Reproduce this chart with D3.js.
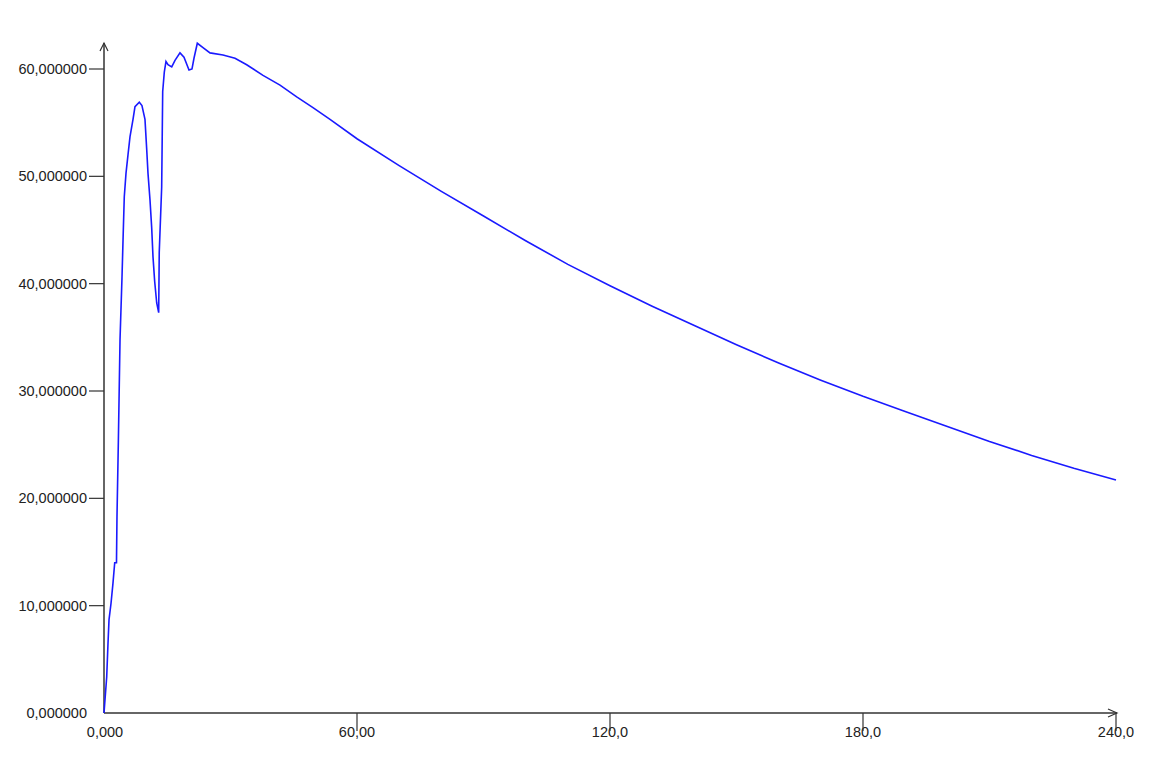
<!DOCTYPE html>
<html>
<head>
<meta charset="utf-8">
<script src="https://cdn.jsdelivr.net/npm/d3@7"></script>
<style>
  body { margin: 0; background: #fff; }
</style>
</head>
<body>
<div id="chart"></div>
<script>
var width = 1153;
var height = 764;

// time values (x) and signal (y)
var times = [0, 0.64, 0.95, 1.19, 1.66, 2.13, 2.54, 2.96, 3.08, 3.4, 3.8, 4.27, 4.58, 4.81, 5.22, 5.69,
    6.17, 6.88, 7.35, 8.37, 9.0, 9.72, 10.13, 10.43, 10.91, 11.31, 11.62, 12.02, 12.5, 12.97,
    13.1, 13.68, 13.8, 13.92, 14.3, 14.7, 15.18, 16.06, 16.84, 18.02, 18.97, 20.16, 20.87, 21.34,
    22.13, 23.48, 25.14, 28.22, 31.07, 33.84, 37.71, 41.74, 45.7, 49.56, 53.6, 60, 70, 80, 90,
    100, 110, 120, 130, 140, 150, 160, 170, 180, 190, 200, 210, 220, 230, 240];
var values = [0, 3.35, 6.5, 8.7, 10.2, 12.1, 14.0, 14.0, 18.3, 25.2, 34.8, 40.6, 45.0, 48.1, 50.3, 52.0,
    53.7, 55.3, 56.5, 56.9, 56.6, 55.3, 52.5, 50.3, 47.8, 45.2, 42.5, 40.2, 38.2, 37.3,
    42.9, 49.0, 53.4, 57.9, 59.7, 60.7, 60.4, 60.2, 60.8, 61.5, 61.1, 59.9, 60.0, 61.0,
    62.4, 62.0, 61.5, 61.3, 61.0, 60.4, 59.4, 58.5, 57.4, 56.4, 55.3, 53.5, 51.0, 48.6, 46.3,
    44.0, 41.8, 39.8, 37.9, 36.1, 34.3, 32.6, 31.0, 29.5, 28.1, 26.7, 25.3, 24.0, 22.8, 21.7];

var xTicks = [0, 60, 120, 180, 240];
var xTickLabels = ["0,000", "60,00", "120,0", "180,0", "240,0"];
var yTicks = [0, 10, 20, 30, 40, 50, 60];
var yTickLabels = ["0,000000", "10,000000", "20,000000", "30,000000", "40,000000", "50,000000", "60,000000"];

var data = times.map(function(t, i) { return { t: t, v: values[i] }; });

var x0 = 104, x1 = 1116;
var y0 = 713, y60 = 69;

var x = d3.scaleLinear().domain([0, 240]).range([x0, x1]);
var y = d3.scaleLinear().domain([0, 60]).range([y0, y60]);

var svg = d3.select("#chart").append("svg")
    .attr("width", width)
    .attr("height", height);

var axisColor = "#333";
var font = "'Liberation Sans', Arial, sans-serif";

// y axis line with arrow
svg.append("line")
    .attr("x1", x0).attr("x2", x0)
    .attr("y1", y0).attr("y2", 43)
    .attr("stroke", axisColor).attr("stroke-width", 1.5);
svg.append("path")
    .attr("d", "M" + (x0 - 4) + ",51 L" + x0 + ",43 L" + (x0 + 4) + ",51")
    .attr("fill", "none").attr("stroke", axisColor).attr("stroke-width", 1.2);

// x axis line with arrow
svg.append("line")
    .attr("x1", x0).attr("x2", x1 + 1)
    .attr("y1", y0).attr("y2", y0)
    .attr("stroke", axisColor).attr("stroke-width", 1.5);
svg.append("path")
    .attr("d", "M" + (x1 - 8) + "," + (y0 - 4) + " L" + (x1 + 1) + "," + y0 + " L" + (x1 - 8) + "," + (y0 + 4))
    .attr("fill", "none").attr("stroke", axisColor).attr("stroke-width", 1.2);

// y ticks and labels
yTicks.forEach(function(d, i) {
    if (d > 0) {
        svg.append("line")
            .attr("x1", x0 - 15).attr("x2", x0)
            .attr("y1", y(d)).attr("y2", y(d))
            .attr("stroke", axisColor).attr("stroke-width", 1.2);
    }
    svg.append("text")
        .attr("x", 87)
        .attr("y", y(d) + 5)
        .attr("text-anchor", "end")
        .style("font-family", font)
        .style("font-size", "14.5px")
        .attr("fill", "#222")
        .text(yTickLabels[i]);
});

// x ticks and labels
xTicks.forEach(function(d, i) {
    svg.append("text")
        .attr("x", x(d) - (d === 0 ? -1 : 0))
        .attr("y", 737)
        .attr("text-anchor", "middle")
        .style("font-family", font)
        .style("font-size", "14.5px")
        .attr("fill", "#222")
        .text(xTickLabels[i]);
    if (d > 0) {
        svg.append("line")
            .attr("x1", x(d)).attr("x2", x(d))
            .attr("y1", y0).attr("y2", y0 + 18)
            .attr("stroke", axisColor).attr("stroke-width", 1.2);
    }
});

// the curve
var line = d3.line()
    .x(function(d) { return x(d.t); })
    .y(function(d) { return y(d.v); })
    .curve(d3.curveLinear);

svg.append("path")
    .datum(data)
    .attr("d", line)
    .attr("fill", "none")
    .attr("stroke", "#1a1aff")
    .attr("stroke-width", 1.6);
</script>
</body>
</html>
